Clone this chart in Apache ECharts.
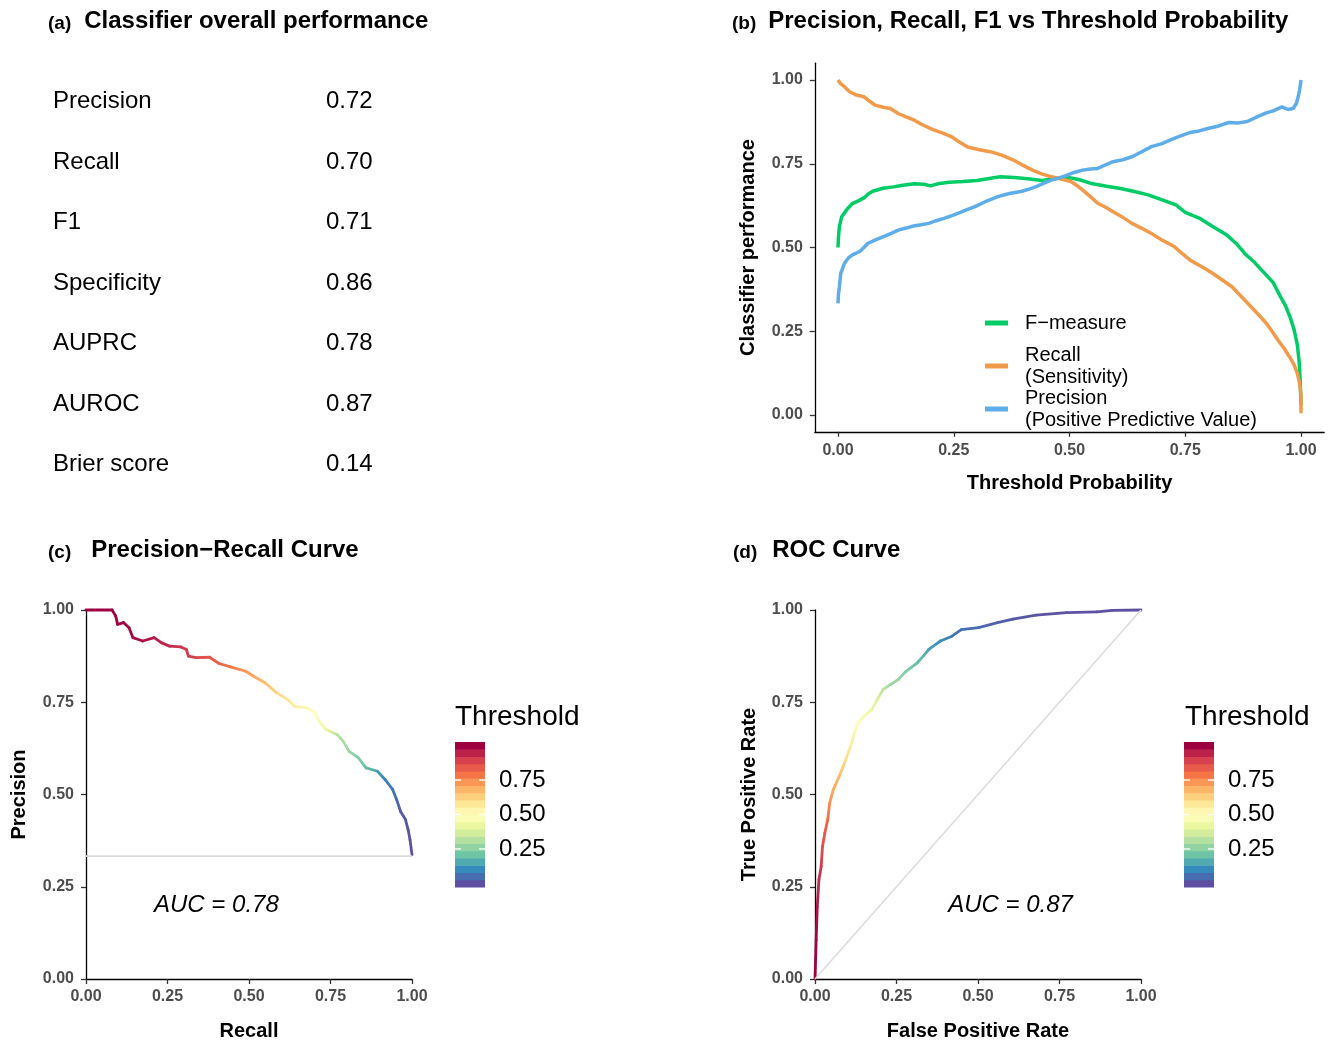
<!DOCTYPE html>
<html>
<head>
<meta charset="utf-8">
<script src="https://cdn.jsdelivr.net/npm/echarts@6/dist/echarts.min.js"></script>
<style>
  html, body { margin: 0; padding: 0; background: #ffffff; }
  #chart { width: 1330px; height: 1043px; }
</style>
</head>
<body>
<div id="chart"></div>
<script>
// ---- (a) overall metrics ----
const metricNames = ['Precision', 'Recall', 'F1', 'Specificity', 'AUPRC', 'AUROC', 'Brier score'];
const metricValues = [0.72, 0.70, 0.71, 0.86, 0.78, 0.87, 0.14];

// ---- (b) metrics vs threshold probability: [threshold, value] ----
const fMeasure = [[0,0.50],[0.001,0.53],[0.003,0.562],[0.008,0.592],[0.02,0.615],[0.03,0.63],[0.045,0.64],[0.056,0.648],[0.065,0.66],[0.075,0.668],[0.097,0.677],[0.12,0.681],[0.14,0.686],[0.165,0.69],[0.185,0.689],[0.2,0.684],[0.215,0.69],[0.24,0.695],[0.27,0.697],[0.3,0.70],[0.33,0.707],[0.35,0.711],[0.38,0.709],[0.41,0.705],[0.44,0.70],[0.47,0.706],[0.5,0.708],[0.52,0.703],[0.55,0.69],[0.58,0.683],[0.61,0.676],[0.64,0.667],[0.67,0.657],[0.7,0.642],[0.73,0.627],[0.75,0.605],[0.78,0.588],[0.81,0.562],[0.84,0.537],[0.86,0.512],[0.88,0.48],[0.9,0.455],[0.92,0.425],[0.94,0.395],[0.955,0.355],[0.967,0.325],[0.977,0.29],[0.985,0.255],[0.992,0.21],[0.996,0.16],[0.998,0.11],[1.0,0.03]];
const recallCurve = [[0,1.0],[0.005,0.99],[0.014,0.98],[0.025,0.965],[0.04,0.955],[0.056,0.95],[0.07,0.935],[0.08,0.925],[0.1,0.918],[0.113,0.915],[0.13,0.9],[0.147,0.89],[0.165,0.88],[0.18,0.868],[0.205,0.852],[0.225,0.842],[0.246,0.83],[0.262,0.815],[0.28,0.80],[0.305,0.792],[0.329,0.786],[0.355,0.775],[0.379,0.761],[0.4,0.745],[0.42,0.731],[0.44,0.72],[0.461,0.711],[0.48,0.705],[0.503,0.697],[0.515,0.686],[0.528,0.672],[0.545,0.652],[0.561,0.632],[0.578,0.62],[0.594,0.607],[0.615,0.59],[0.635,0.572],[0.655,0.558],[0.677,0.542],[0.7,0.522],[0.727,0.502],[0.745,0.48],[0.76,0.463],[0.785,0.443],[0.809,0.423],[0.83,0.403],[0.851,0.383],[0.87,0.355],[0.892,0.323],[0.91,0.297],[0.925,0.274],[0.94,0.245],[0.95,0.224],[0.963,0.2],[0.975,0.174],[0.985,0.15],[0.992,0.124],[0.997,0.095],[1.0,0.06],[1.0,0.005]];
const precisionCurve = [[0,0.333],[0.001,0.36],[0.003,0.383],[0.006,0.423],[0.014,0.453],[0.022,0.468],[0.031,0.478],[0.047,0.488],[0.056,0.5],[0.064,0.512],[0.08,0.522],[0.097,0.532],[0.115,0.542],[0.13,0.552],[0.147,0.558],[0.163,0.564],[0.18,0.568],[0.196,0.572],[0.212,0.58],[0.229,0.587],[0.246,0.595],[0.263,0.604],[0.28,0.614],[0.296,0.622],[0.32,0.638],[0.345,0.652],[0.37,0.661],[0.395,0.667],[0.41,0.673],[0.428,0.682],[0.445,0.692],[0.461,0.701],[0.478,0.708],[0.495,0.716],[0.51,0.724],[0.528,0.731],[0.545,0.734],[0.561,0.736],[0.578,0.747],[0.594,0.756],[0.615,0.762],[0.635,0.771],[0.655,0.785],[0.677,0.801],[0.7,0.81],[0.718,0.821],[0.74,0.833],[0.76,0.843],[0.78,0.848],[0.801,0.856],[0.82,0.862],[0.843,0.873],[0.865,0.872],[0.884,0.876],[0.905,0.89],[0.925,0.902],[0.94,0.908],[0.959,0.92],[0.972,0.912],[0.983,0.915],[0.99,0.93],[0.994,0.95],[0.997,0.97],[1.0,1.0]];

// ---- (c) precision-recall curve ----
const prRecall    = [0,0.08,0.091,0.097,0.115,0.132,0.144,0.174,0.209,0.232,0.256,0.291,0.308,0.314,0.338,0.379,0.408,0.443,0.49,0.513,0.549,0.584,0.619,0.642,0.678,0.701,0.719,0.736,0.771,0.789,0.807,0.836,0.859,0.894,0.918,0.941,0.953,0.965,0.98,0.988,0.994,1.0];
const prPrecision = [1,1,0.984,0.961,0.966,0.952,0.925,0.916,0.925,0.911,0.902,0.90,0.893,0.875,0.871,0.872,0.855,0.846,0.834,0.821,0.803,0.776,0.757,0.738,0.735,0.721,0.694,0.676,0.662,0.644,0.617,0.599,0.572,0.563,0.54,0.513,0.486,0.454,0.432,0.405,0.377,0.337];
const prThreshold = [1.0,1.0,0.999,0.998,0.994,0.99,0.986,0.975,0.957,0.946,0.934,0.914,0.906,0.901,0.882,0.854,0.824,0.788,0.737,0.714,0.67,0.624,0.577,0.556,0.525,0.496,0.463,0.418,0.33,0.30,0.273,0.236,0.197,0.14,0.09,0.066,0.054,0.03,0.014,0.008,0.004,0.0];
const prBaseline = 0.333;

// ---- (d) ROC curve ----
const rocFpr       = [0,0.0035,0.007,0.012,0.019,0.023,0.03,0.039,0.045,0.056,0.074,0.091,0.109,0.121,0.132,0.15,0.174,0.191,0.209,0.232,0.256,0.279,0.314,0.332,0.349,0.385,0.42,0.449,0.502,0.56,0.607,0.678,0.771,0.865,0.912,1.0];
const rocTpr       = [0,0.106,0.196,0.269,0.305,0.359,0.395,0.432,0.477,0.513,0.549,0.586,0.631,0.667,0.694,0.712,0.73,0.757,0.785,0.798,0.812,0.834,0.857,0.875,0.893,0.916,0.929,0.947,0.952,0.966,0.975,0.986,0.993,0.995,0.999,1.0];
const rocThreshold = [1.0,0.997,0.965,0.927,0.905,0.867,0.84,0.806,0.748,0.71,0.677,0.616,0.562,0.533,0.505,0.46,0.42,0.384,0.33,0.285,0.268,0.24,0.195,0.18,0.145,0.113,0.078,0.06,0.05,0.03,0.018,0.01,0.005,0.003,0.001,0.0];

// ---- tick labels ----
const unitTicks = [0, 0.25, 0.5, 0.75, 1];
const colorbarTicks = [0.25, 0.5, 0.75];

// Spectral palette, low threshold -> purple, high threshold -> dark red
const spectral = ['#5E4FA2','#3288BD','#66C2A5','#ABDDA4','#E6F598','#FFFFBF','#FEE08B','#FDAE61','#F46D43','#D53E4F','#9E0142'];
const lineColors = { f: '#00cc66', recall: '#f09a4a', precision: '#5dade8' };

const FONT = '"Liberation Sans", Arial, Helvetica, sans-serif';
const chart = echarts.init(document.getElementById('chart'), null, { renderer: 'canvas' });

const fmt2 = v => Number(v).toFixed(2);
const tickLabelStyle = { formatter: fmt2, fontFamily: FONT, fontSize: 16, fontWeight: 'bold', color: '#4d4d4d' };

function axisCommon(extra) {
  return Object.assign({
    type: 'value',
    splitLine: { show: false },
    axisLine: { show: true, onZero: false, lineStyle: { color: '#000', width: 1.3 } },
    axisTick: { show: true, length: 5, lineStyle: { color: '#333', width: 1.3 } },
    nameLocation: 'middle',
    nameTextStyle: { fontFamily: FONT, fontSize: 20, fontWeight: 'bold', color: '#000' }
  }, extra);
}

// Build coloured path segments (each carries its previous point) for the threshold-coloured curves
function segments(xs, ys, ts) {
  const out = [];
  for (let i = 1; i < xs.length; i++) {
    out.push([xs[i], ys[i], ts[i], xs[i - 1], ys[i - 1], ts[i - 1]]);
  }
  return out;
}
function segmentRenderer(params, api) {
  const p1 = api.coord([api.value(3), api.value(4)]);
  const p2 = api.coord([api.value(0), api.value(1)]);
  const c1 = echarts.color.lerp(api.value(5), spectral);
  const c2 = echarts.color.lerp(api.value(2), spectral);
  const same = Math.abs(p1[0] - p2[0]) < 0.01 && Math.abs(p1[1] - p2[1]) < 0.01;
  return {
    type: 'line',
    shape: { x1: p1[0], y1: p1[1], x2: p2[0], y2: p2[1] },
    style: {
      stroke: same ? c2 : new echarts.graphic.LinearGradient(p1[0], p1[1], p2[0], p2[1],
        [{ offset: 0, color: c1 }, { offset: 1, color: c2 }], true),
      lineWidth: 2.8, lineCap: 'round', lineJoin: 'round'
    }
  };
}

// Colour bar: 20 bins spread over the threshold range
const NBIN = 20;
const half = 0.5 / (NBIN - 1);
const binCentres = [];
for (let i = 0; i < NBIN; i++) binCentres.push([0.5, i / (NBIN - 1)]);
function colorbarRenderer(params, api) {
  const c = api.value(1);
  const tl = api.coord([0, c + half]);
  const br = api.coord([1, c - half]);
  return {
    type: 'rect',
    shape: { x: tl[0], y: tl[1], width: br[0] - tl[0], height: br[1] - tl[1] + 0.5 },
    style: { fill: echarts.color.lerp(c, spectral) }
  };
}
// White tick marks on both edges of the colour bar
const colorbarTickData = colorbarTicks.map(v => [0.5, v]);
function colorbarTickRenderer(params, api) {
  const v = api.value(1);
  const l0 = api.coord([0, v]), l1 = api.coord([0.2, v]);
  const r0 = api.coord([0.8, v]), r1 = api.coord([1, v]);
  const st = { stroke: '#ffffff', lineWidth: 1.3 };
  return {
    type: 'group',
    children: [
      { type: 'line', shape: { x1: l0[0], y1: l0[1], x2: l1[0], y2: l1[1] }, style: st },
      { type: 'line', shape: { x1: r0[0], y1: r0[1], x2: r1[0], y2: r1[1] }, style: st }
    ]
  };
}
function colorbarAxis(gridIndex) {
  return { gridIndex, type: 'value', position: 'right', min: -half, max: 1 + half,
    axisLine: { show: false }, splitLine: { show: false }, axisTick: { show: false },
    axisLabel: { customValues: colorbarTicks, formatter: fmt2, fontFamily: FONT, fontSize: 24, color: '#000', margin: 14 } };
}

// Text for the panel headings and the metrics table
const panelTitles = [
  { tag: '(a)', text: 'Classifier overall performance', left: 48, top: 9, gap: 13 },
  { tag: '(b)', text: 'Precision, Recall, F1 vs Threshold Probability', left: 732, top: 9, gap: 12 },
  { tag: '(c)', text: 'Precision\u2212Recall Curve', left: 48, top: 538, gap: 20 },
  { tag: '(d)', text: 'ROC Curve', left: 733, top: 538, gap: 15 }
];
const graphics = [];
panelTitles.forEach(p => {
  graphics.push({
    type: 'text', left: p.left, top: p.top, silent: true,
    style: {
      text: '{tag|' + p.tag + '}{title|' + p.text + '}',
      rich: {
        tag: { fontFamily: FONT, fontSize: 19, fontWeight: 'bold', fill: '#000', lineHeight: 28, padding: [0, p.gap, 0, 0], verticalAlign: 'bottom' },
        title: { fontFamily: FONT, fontSize: 24, fontWeight: 'bold', fill: '#000', lineHeight: 28, verticalAlign: 'bottom' }
      }
    }
  });
});
metricNames.forEach((name, i) => {
  const y = 101.5 + i * 60.5;
  graphics.push({ type: 'text', x: 53, y, silent: true,
    style: { text: name, fontFamily: FONT, fontSize: 24, fill: '#000', verticalAlign: 'middle' } });
  graphics.push({ type: 'text', x: 326, y, silent: true,
    style: { text: metricValues[i].toFixed(2), fontFamily: FONT, fontSize: 24, fill: '#000', verticalAlign: 'middle' } });
});
[455, 1185].forEach(x => {
  graphics.push({ type: 'text', x, y: 717, silent: true,
    style: { text: 'Threshold', fontFamily: FONT, fontSize: 28, fill: '#000', verticalAlign: 'middle' } });
});

const legendBase = {
  orient: 'vertical', left: 985, padding: 0, icon: 'rect', itemWidth: 23, itemHeight: 5,
  selectedMode: false,
  textStyle: { fontFamily: FONT, fontSize: 20, lineHeight: 22, color: '#000', padding: [0, 0, 0, 12] }
};
const nameF = 'F\u2212measure';
const nameR = 'Recall\n(Sensitivity)';
const nameP = 'Precision\n(Positive Predictive Value)';

const aucPR = metricValues[metricNames.indexOf('AUPRC')];
const aucROC = metricValues[metricNames.indexOf('AUROC')];
// Where the AUC notes sit, in each panel's own data coordinates
const aucLabelAt = { pr: [0.4, 0.2], roc: [0.6, 0.2] };

const option = {
  backgroundColor: '#ffffff',
  animation: false,
  textStyle: { fontFamily: FONT },
  graphic: graphics,
  legend: [
    Object.assign({}, legendBase, { top: 312, data: [nameF] }),
    Object.assign({}, legendBase, { top: 344, data: [nameR] }),
    Object.assign({}, legendBase, { top: 387, data: [nameP] })
  ],
  grid: [
    { left: 814.85, top: 63.25, width: 509.3, height: 368.5 },
    { left: 86, top: 610, width: 326, height: 369 },
    { left: 815, top: 610, width: 326, height: 369 },
    { left: 455, top: 742, width: 30, height: 145 },
    { left: 1184, top: 742, width: 30, height: 145 }
  ],
  xAxis: [
    axisCommon({ gridIndex: 0, min: -0.05, max: 1.05, name: 'Threshold Probability', nameGap: 42,
      axisTick: { show: true, length: 5, customValues: unitTicks, lineStyle: { color: '#333', width: 1.3 } },
      axisLabel: Object.assign({ customValues: unitTicks, margin: 11 }, tickLabelStyle) }),
    axisCommon({ gridIndex: 1, min: 0, max: 1, interval: 0.25, name: 'Recall', nameGap: 42,
      axisLabel: Object.assign({ margin: 10 }, tickLabelStyle) }),
    axisCommon({ gridIndex: 2, min: 0, max: 1, interval: 0.25, name: 'False Positive Rate', nameGap: 42,
      axisLabel: Object.assign({ margin: 10 }, tickLabelStyle) }),
    { gridIndex: 3, type: 'value', min: 0, max: 1, show: false },
    { gridIndex: 4, type: 'value', min: 0, max: 1, show: false }
  ],
  yAxis: [
    axisCommon({ gridIndex: 0, min: -0.05, max: 1.05, name: 'Classifier performance', nameGap: 56,
      axisTick: { show: true, length: 5, customValues: unitTicks, lineStyle: { color: '#333', width: 1.3 } },
      axisLabel: Object.assign({ customValues: unitTicks, margin: 12 }, tickLabelStyle) }),
    axisCommon({ gridIndex: 1, min: 0, max: 1, interval: 0.25, name: 'Precision', nameGap: 57,
      axisLabel: Object.assign({ margin: 12 }, tickLabelStyle) }),
    axisCommon({ gridIndex: 2, min: 0, max: 1, interval: 0.25, name: 'True Positive Rate', nameGap: 56,
      axisLabel: Object.assign({ margin: 12 }, tickLabelStyle) }),
    colorbarAxis(3),
    colorbarAxis(4)
  ],
  series: [
    // (b) curves
    { name: nameF, type: 'line', xAxisIndex: 0, yAxisIndex: 0, data: fMeasure, showSymbol: false, symbol: 'none',
      itemStyle: { color: lineColors.f }, lineStyle: { color: lineColors.f, width: 3.5 } },
    { name: nameR, type: 'line', xAxisIndex: 0, yAxisIndex: 0, data: recallCurve, showSymbol: false, symbol: 'none',
      itemStyle: { color: lineColors.recall }, lineStyle: { color: lineColors.recall, width: 3.5 } },
    { name: nameP, type: 'line', xAxisIndex: 0, yAxisIndex: 0, data: precisionCurve, showSymbol: false, symbol: 'none',
      itemStyle: { color: lineColors.precision }, lineStyle: { color: lineColors.precision, width: 3.5 } },

    // (c) no-skill baseline and PR curve
    { type: 'line', xAxisIndex: 1, yAxisIndex: 1, data: [[0, prBaseline], [1, prBaseline]], symbol: 'none',
      lineStyle: { color: '#dcdcdc', width: 1.6 }, silent: true },
    { type: 'custom', xAxisIndex: 1, yAxisIndex: 1, data: segments(prRecall, prPrecision, prThreshold),
      encode: { x: 0, y: 1 }, renderItem: segmentRenderer, clip: false, silent: true },

    // (d) chance diagonal and ROC curve
    { type: 'line', xAxisIndex: 2, yAxisIndex: 2, data: [[0, 0], [1, 1]], symbol: 'none',
      lineStyle: { color: '#dcdcdc', width: 1.6 }, silent: true },
    { type: 'custom', xAxisIndex: 2, yAxisIndex: 2, data: segments(rocFpr, rocTpr, rocThreshold),
      encode: { x: 0, y: 1 }, renderItem: segmentRenderer, clip: false, silent: true },

    // colour bars with their white tick marks
    { type: 'custom', xAxisIndex: 3, yAxisIndex: 3, data: binCentres, encode: { x: 0, y: 1 },
      renderItem: colorbarRenderer, silent: true },
    { type: 'custom', xAxisIndex: 3, yAxisIndex: 3, data: colorbarTickData, encode: { x: 0, y: 1 },
      renderItem: colorbarTickRenderer, silent: true, z: 5 },
    { type: 'custom', xAxisIndex: 4, yAxisIndex: 4, data: binCentres, encode: { x: 0, y: 1 },
      renderItem: colorbarRenderer, silent: true },
    { type: 'custom', xAxisIndex: 4, yAxisIndex: 4, data: colorbarTickData, encode: { x: 0, y: 1 },
      renderItem: colorbarTickRenderer, silent: true, z: 5 }
  ]
};

chart.setOption(option);

// AUC notes, placed through each panel's axes
const prPos = chart.convertToPixel({ gridIndex: 1 }, aucLabelAt.pr);
const rocPos = chart.convertToPixel({ gridIndex: 2 }, aucLabelAt.roc);
const aucStyle = { fontFamily: FONT, fontSize: 24, fontStyle: 'italic', fill: '#000', align: 'center', verticalAlign: 'middle' };
chart.setOption({
  graphic: graphics.concat([
    { type: 'text', x: prPos[0], y: prPos[1], silent: true, style: Object.assign({ text: 'AUC = ' + aucPR.toFixed(2) }, aucStyle) },
    { type: 'text', x: rocPos[0], y: rocPos[1], silent: true, style: Object.assign({ text: 'AUC = ' + aucROC.toFixed(2) }, aucStyle) }
  ])
});
</script>
</body>
</html>
